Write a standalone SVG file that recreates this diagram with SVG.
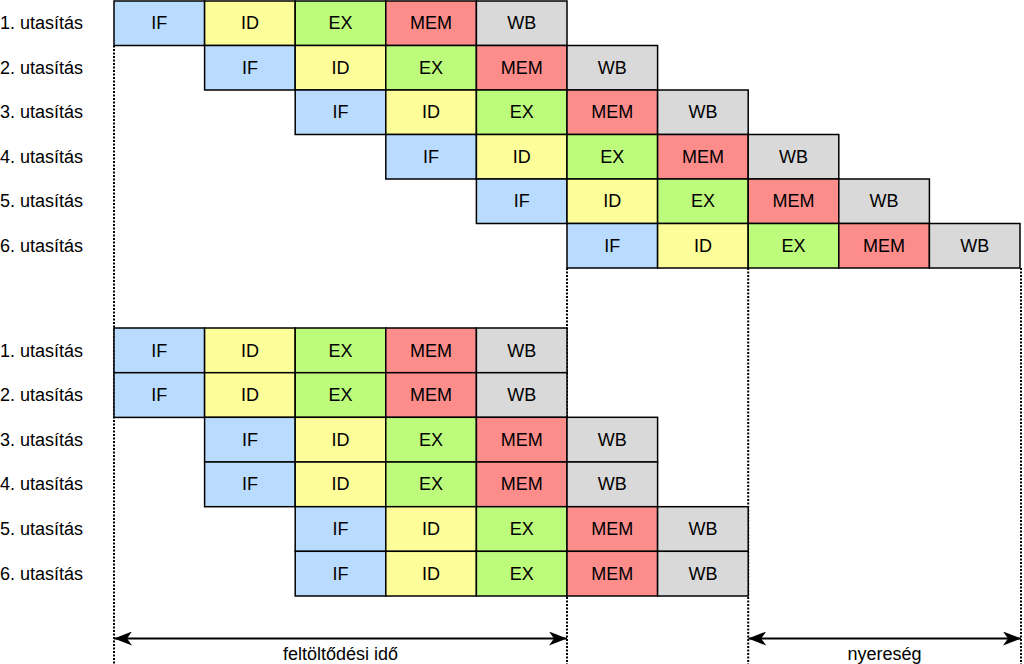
<svg xmlns="http://www.w3.org/2000/svg" width="1024" height="664" viewBox="0 0 1024 664">
<style>
.c{stroke:#000;stroke-width:1.5}
.IF{fill:#b9dbfd}.ID{fill:#fdfd99}.EX{fill:#bdfb7d}.MEM{fill:#fd8d8b}.WB{fill:#d9d9d9}
text{font-family:"Liberation Sans",Arial,sans-serif;font-size:18px;fill:#000}
.t{text-anchor:middle}
.d{stroke:#000;stroke-width:2;stroke-dasharray:2,1.5;fill:none}
.a{stroke:#000;stroke-width:1.8;fill:none}
</style>
<defs>
<marker id="ah" viewBox="0 0 18 14" refX="18" refY="7" markerWidth="18" markerHeight="14" markerUnits="userSpaceOnUse" orient="auto-start-reverse">
<path d="M0,0 L18,7 L0,14 L5,7 Z" fill="#000"/>
</marker>
</defs>
<g id="guides">
<line class="d" x1="114" y1="45.5" x2="114" y2="664"/>
<line class="d" x1="567" y1="268" x2="567" y2="664"/>
<line class="d" x1="748.2" y1="268" x2="748.2" y2="664"/>
<line class="d" x1="1021" y1="268" x2="1021" y2="664"/>
</g>
<g id="top">
<g id="t1"><text x="0" y="29">1. utasítás</text>
<rect class="c IF" x="114" y="1" width="90.6" height="44.5"/><rect class="c ID" x="204.6" y="1" width="90.6" height="44.5"/><rect class="c EX" x="295.2" y="1" width="90.6" height="44.5"/><rect class="c MEM" x="385.8" y="1" width="90.6" height="44.5"/><rect class="c WB" x="476.4" y="1" width="90.6" height="44.5"/>
<text class="t" x="159.3" y="29">IF</text><text class="t" x="249.9" y="29">ID</text><text class="t" x="340.5" y="29">EX</text><text class="t" x="431.1" y="29">MEM</text><text class="t" x="521.7" y="29">WB</text></g>
<g id="t2"><text x="0" y="74">2. utasítás</text>
<rect class="c IF" x="204.6" y="45.5" width="90.6" height="44.5"/><rect class="c ID" x="295.2" y="45.5" width="90.6" height="44.5"/><rect class="c EX" x="385.8" y="45.5" width="90.6" height="44.5"/><rect class="c MEM" x="476.4" y="45.5" width="90.6" height="44.5"/><rect class="c WB" x="567" y="45.5" width="90.6" height="44.5"/>
<text class="t" x="249.9" y="74">IF</text><text class="t" x="340.5" y="74">ID</text><text class="t" x="431.1" y="74">EX</text><text class="t" x="521.7" y="74">MEM</text><text class="t" x="612.3" y="74">WB</text></g>
<g id="t3"><text x="0" y="118">3. utasítás</text>
<rect class="c IF" x="295.2" y="90" width="90.6" height="44.5"/><rect class="c ID" x="385.8" y="90" width="90.6" height="44.5"/><rect class="c EX" x="476.4" y="90" width="90.6" height="44.5"/><rect class="c MEM" x="567" y="90" width="90.6" height="44.5"/><rect class="c WB" x="657.6" y="90" width="90.6" height="44.5"/>
<text class="t" x="340.5" y="118">IF</text><text class="t" x="431.1" y="118">ID</text><text class="t" x="521.7" y="118">EX</text><text class="t" x="612.3" y="118">MEM</text><text class="t" x="702.9" y="118">WB</text></g>
<g id="t4"><text x="0" y="163">4. utasítás</text>
<rect class="c IF" x="385.8" y="134.5" width="90.6" height="44.5"/><rect class="c ID" x="476.4" y="134.5" width="90.6" height="44.5"/><rect class="c EX" x="567" y="134.5" width="90.6" height="44.5"/><rect class="c MEM" x="657.6" y="134.5" width="90.6" height="44.5"/><rect class="c WB" x="748.2" y="134.5" width="90.6" height="44.5"/>
<text class="t" x="431.1" y="163">IF</text><text class="t" x="521.7" y="163">ID</text><text class="t" x="612.3" y="163">EX</text><text class="t" x="702.9" y="163">MEM</text><text class="t" x="793.5" y="163">WB</text></g>
<g id="t5"><text x="0" y="207">5. utasítás</text>
<rect class="c IF" x="476.4" y="179" width="90.6" height="44.5"/><rect class="c ID" x="567" y="179" width="90.6" height="44.5"/><rect class="c EX" x="657.6" y="179" width="90.6" height="44.5"/><rect class="c MEM" x="748.2" y="179" width="90.6" height="44.5"/><rect class="c WB" x="838.8" y="179" width="90.6" height="44.5"/>
<text class="t" x="521.7" y="207">IF</text><text class="t" x="612.3" y="207">ID</text><text class="t" x="702.9" y="207">EX</text><text class="t" x="793.5" y="207">MEM</text><text class="t" x="884.1" y="207">WB</text></g>
<g id="t6"><text x="0" y="252">6. utasítás</text>
<rect class="c IF" x="567" y="223.5" width="90.6" height="44.5"/><rect class="c ID" x="657.6" y="223.5" width="90.6" height="44.5"/><rect class="c EX" x="748.2" y="223.5" width="90.6" height="44.5"/><rect class="c MEM" x="838.8" y="223.5" width="90.6" height="44.5"/><rect class="c WB" x="929.4" y="223.5" width="90.6" height="44.5"/>
<text class="t" x="612.3" y="252">IF</text><text class="t" x="702.9" y="252">ID</text><text class="t" x="793.5" y="252">EX</text><text class="t" x="884.1" y="252">MEM</text><text class="t" x="974.7" y="252">WB</text></g>
</g>
<g id="bottom">
<g id="b1"><text x="0" y="357">1. utasítás</text>
<rect class="c IF" x="114" y="328" width="90.6" height="44.7"/><rect class="c ID" x="204.6" y="328" width="90.6" height="44.7"/><rect class="c EX" x="295.2" y="328" width="90.6" height="44.7"/><rect class="c MEM" x="385.8" y="328" width="90.6" height="44.7"/><rect class="c WB" x="476.4" y="328" width="90.6" height="44.7"/>
<text class="t" x="159.3" y="357">IF</text><text class="t" x="249.9" y="357">ID</text><text class="t" x="340.5" y="357">EX</text><text class="t" x="431.1" y="357">MEM</text><text class="t" x="521.7" y="357">WB</text></g>
<g id="b2"><text x="0" y="401">2. utasítás</text>
<rect class="c IF" x="114" y="372.7" width="90.6" height="44.7"/><rect class="c ID" x="204.6" y="372.7" width="90.6" height="44.7"/><rect class="c EX" x="295.2" y="372.7" width="90.6" height="44.7"/><rect class="c MEM" x="385.8" y="372.7" width="90.6" height="44.7"/><rect class="c WB" x="476.4" y="372.7" width="90.6" height="44.7"/>
<text class="t" x="159.3" y="401">IF</text><text class="t" x="249.9" y="401">ID</text><text class="t" x="340.5" y="401">EX</text><text class="t" x="431.1" y="401">MEM</text><text class="t" x="521.7" y="401">WB</text></g>
<g id="b3"><text x="0" y="446">3. utasítás</text>
<rect class="c IF" x="204.6" y="417.3" width="90.6" height="44.7"/><rect class="c ID" x="295.2" y="417.3" width="90.6" height="44.7"/><rect class="c EX" x="385.8" y="417.3" width="90.6" height="44.7"/><rect class="c MEM" x="476.4" y="417.3" width="90.6" height="44.7"/><rect class="c WB" x="567" y="417.3" width="90.6" height="44.7"/>
<text class="t" x="249.9" y="446">IF</text><text class="t" x="340.5" y="446">ID</text><text class="t" x="431.1" y="446">EX</text><text class="t" x="521.7" y="446">MEM</text><text class="t" x="612.3" y="446">WB</text></g>
<g id="b4"><text x="0" y="490">4. utasítás</text>
<rect class="c IF" x="204.6" y="462" width="90.6" height="44.7"/><rect class="c ID" x="295.2" y="462" width="90.6" height="44.7"/><rect class="c EX" x="385.8" y="462" width="90.6" height="44.7"/><rect class="c MEM" x="476.4" y="462" width="90.6" height="44.7"/><rect class="c WB" x="567" y="462" width="90.6" height="44.7"/>
<text class="t" x="249.9" y="490">IF</text><text class="t" x="340.5" y="490">ID</text><text class="t" x="431.1" y="490">EX</text><text class="t" x="521.7" y="490">MEM</text><text class="t" x="612.3" y="490">WB</text></g>
<g id="b5"><text x="0" y="535">5. utasítás</text>
<rect class="c IF" x="295.2" y="506.7" width="90.6" height="44.7"/><rect class="c ID" x="385.8" y="506.7" width="90.6" height="44.7"/><rect class="c EX" x="476.4" y="506.7" width="90.6" height="44.7"/><rect class="c MEM" x="567" y="506.7" width="90.6" height="44.7"/><rect class="c WB" x="657.6" y="506.7" width="90.6" height="44.7"/>
<text class="t" x="340.5" y="535">IF</text><text class="t" x="431.1" y="535">ID</text><text class="t" x="521.7" y="535">EX</text><text class="t" x="612.3" y="535">MEM</text><text class="t" x="702.9" y="535">WB</text></g>
<g id="b6"><text x="0" y="580">6. utasítás</text>
<rect class="c IF" x="295.2" y="551.3" width="90.6" height="44.7"/><rect class="c ID" x="385.8" y="551.3" width="90.6" height="44.7"/><rect class="c EX" x="476.4" y="551.3" width="90.6" height="44.7"/><rect class="c MEM" x="567" y="551.3" width="90.6" height="44.7"/><rect class="c WB" x="657.6" y="551.3" width="90.6" height="44.7"/>
<text class="t" x="340.5" y="580">IF</text><text class="t" x="431.1" y="580">ID</text><text class="t" x="521.7" y="580">EX</text><text class="t" x="612.3" y="580">MEM</text><text class="t" x="702.9" y="580">WB</text></g>
</g>
<g id="connectors">
<line class="a" x1="114" y1="638.5" x2="567" y2="638.5" marker-start="url(#ah)" marker-end="url(#ah)"/>
<line class="a" x1="748.2" y1="638.5" x2="1021" y2="638.5" marker-start="url(#ah)" marker-end="url(#ah)"/>
</g>
<g id="labels">
<text class="t" x="340.5" y="660">feltöltődési idő</text>
<text class="t" x="884.6" y="660">nyereség</text>
</g>
</svg>
